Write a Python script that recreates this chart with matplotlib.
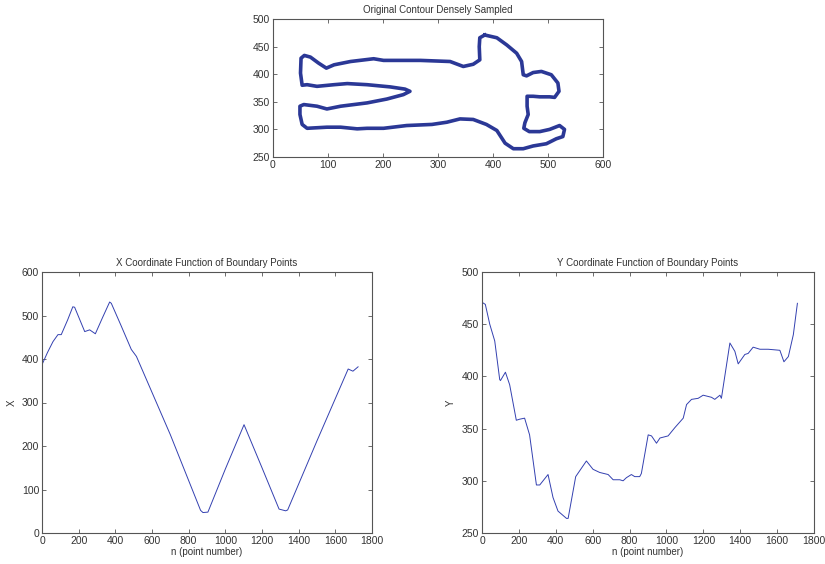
import matplotlib
matplotlib.use("Agg")
import matplotlib.pyplot as plt

plt.rcParams['font.family'] = ['Liberation Sans', 'DejaVu Sans']
plt.rcParams['font.size'] = 7.5

# contour (clockwise from the top of the head)
contour_x = [385, 407, 425, 443, 452, 455, 461, 473, 488, 506, 518, 520, 512, 503,
             485, 473, 462, 462, 464, 458, 456, 466, 485, 503, 521, 530, 527, 515,
             497, 473, 455, 437, 422, 407, 388, 364, 340, 316, 289, 243, 201, 171,
             153, 123, 98, 62, 53, 49, 49, 56, 80, 98, 123, 171, 207, 237, 249,
             240, 213, 171, 135, 111, 80, 62, 53, 50, 51, 57, 68, 83, 97, 111,
             141, 183, 201, 268, 322, 346, 364, 376, 375, 376, 385]
contour_y = [471, 466, 453, 438, 423, 399, 397, 403, 405, 399, 384, 369, 358, 359,
             359, 360, 360, 342, 327, 312, 302, 296, 296, 300, 307, 300, 287, 283,
             274, 270, 265, 265, 275, 298, 309, 318, 319, 313, 309, 307, 302, 302,
             301, 304, 304, 302, 309, 327, 342, 345, 342, 337, 342, 348, 355, 363,
             369, 373, 377, 381, 383, 381, 378, 381, 380, 402, 429, 434, 431, 420,
             411, 417, 423, 428, 425, 425, 423, 414, 418, 426, 450, 466, 471]

# x(n)
xn_n = [0, 30, 60, 87, 105, 140, 168, 178, 233, 260, 291, 330, 369, 378, 430, 487,
        515, 700, 865, 878, 905, 1000, 1102, 1200, 1293, 1329, 1340, 1500, 1670,
        1696, 1724]
xn_x = [387, 415, 440, 456, 456, 490, 520, 519, 463, 467, 458, 495, 531, 528, 478,
        422, 406, 226, 52, 47, 48, 147, 249, 150, 55, 51, 53, 212, 377, 372, 382]

# y(n)
yn_n = [0, 18, 42, 69, 96, 100, 127, 150, 186, 204, 231, 258, 295, 313, 358, 385,
        412, 458, 467, 508, 566, 602, 638, 684, 711, 747, 765, 783, 810, 828, 855,
        864, 901, 919, 946, 965, 1009, 1046, 1091, 1109, 1136, 1172, 1199, 1244,
        1262, 1290, 1298, 1344, 1371, 1389, 1425, 1443, 1470, 1507, 1552, 1615,
        1637, 1661, 1688, 1710]
yn_y = [471, 469, 450, 434, 397, 396, 404, 392, 358, 359, 360, 344, 296, 296, 306,
        284, 271, 264, 264, 304, 319, 311, 308, 306, 301, 301, 300, 303, 306, 304,
        304, 307, 344, 343, 336, 341, 343, 351, 360, 373, 378, 379, 382, 380, 378,
        382, 379, 432, 424, 412, 421, 422, 428, 426, 426, 425, 414, 419, 440, 470]

TXT = '#333333'


def matlab_style(ax):
    for s in ax.spines.values():
        s.set_color('#555555')
        s.set_linewidth(0.8)
    ax.tick_params(direction='in', top=True, right=True, length=3, width=0.6,
                   colors='#555555', labelcolor=TXT, labelsize=7.5, pad=2)


fig = plt.figure(figsize=(8.25, 5.64), dpi=100)
W, H = 825, 564

ax_top = fig.add_axes([273 / W, 1 - 157 / H, 330 / W, 138 / H])
ax_top.plot(contour_x, contour_y, color='#2b3896', lw=2.6, solid_joinstyle='round')
ax_top.set_xlim(0, 600)
ax_top.set_ylim(250, 500)
ax_top.set_xticks(range(0, 601, 100))
ax_top.set_yticks(range(250, 501, 50))
ax_top.set_title('Original Contour Densely Sampled', fontsize=7, color=TXT, pad=4)
matlab_style(ax_top)

ax_x = fig.add_axes([42 / W, 1 - 533 / H, 330 / W, 261 / H])
ax_x.plot(xn_n, xn_x, color='#3340b0', lw=0.7)
ax_x.set_xlim(0, 1800)
ax_x.set_ylim(0, 600)
ax_x.set_xticks(range(0, 1801, 200))
ax_x.set_yticks(range(0, 601, 100))
ax_x.set_title('X Coordinate Function of Boundary Points', fontsize=7, color=TXT, pad=4)
ax_x.set_xlabel('n (point number)', fontsize=7, color=TXT, labelpad=1)
ax_x.set_ylabel('X', fontsize=7, color=TXT, labelpad=4)
matlab_style(ax_x)

ax_y = fig.add_axes([482 / W, 1 - 533 / H, 332 / W, 261 / H])
ax_y.plot(yn_n, yn_y, color='#3340b0', lw=0.7)
ax_y.set_xlim(0, 1800)
ax_y.set_ylim(250, 500)
ax_y.set_xticks(range(0, 1801, 200))
ax_y.set_yticks(range(250, 501, 50))
ax_y.set_title('Y Coordinate Function of Boundary Points', fontsize=7, color=TXT, pad=4)
ax_y.set_xlabel('n (point number)', fontsize=7, color=TXT, labelpad=1)
ax_y.set_ylabel('Y', fontsize=7, color=TXT, labelpad=4)
matlab_style(ax_y)

fig.savefig('out.png', dpi=100)
